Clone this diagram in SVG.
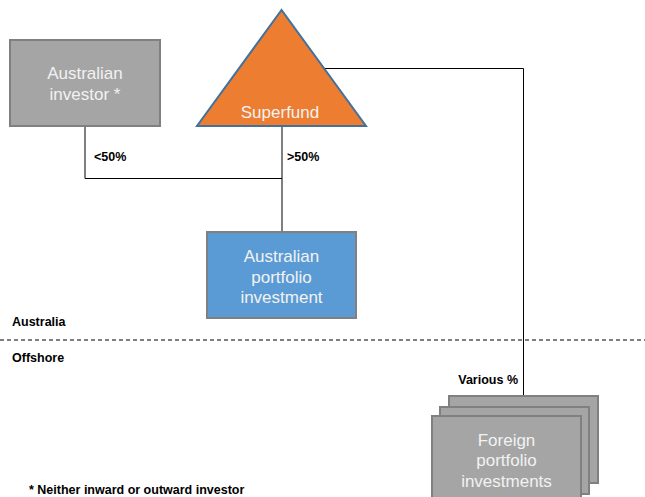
<svg xmlns="http://www.w3.org/2000/svg" width="645" height="497" viewBox="0 0 645 497">
  <style>
    .box { stroke: #808080; stroke-width: 2; }
    .grey { fill: #a5a5a5; }
    .blue { fill: #5b9bd5; }
    .node-text { font-family: "Liberation Sans", Arial, sans-serif; font-size: 17px; fill: #f2f2f2; text-anchor: middle; }
    .label { font-family: "Liberation Sans", Arial, sans-serif; font-size: 12.5px; font-weight: bold; fill: #000000; }
    .link { fill: none; stroke: #000000; stroke-width: 1; }
  </style>
  <rect x="0" y="0" width="645" height="497" fill="#ffffff"/>

  <!-- connectors -->
  <g id="connectors">
    <polyline class="link" points="85,127 85,178.5 282,178.5"/>
    <line class="link" x1="282" y1="126" x2="282" y2="231"/>
    <polyline class="link" points="323.5,68.5 523.5,68.5 523.5,395"/>
  </g>

  <!-- region divider -->
  <g id="divider">
    <line x1="0" y1="340" x2="645" y2="340" stroke="#000000" stroke-width="1" stroke-dasharray="4,3"/>
    <text class="label" x="12" y="326">Australia</text>
    <text class="label" x="12" y="362">Offshore</text>
  </g>

  <g id="investor">
    <rect class="box grey" x="10" y="40" width="150" height="86"/>
    <text class="node-text" x="85" y="79">Australian</text>
    <text class="node-text" x="85" y="100">investor *</text>
  </g>

  <g id="superfund">
    <polygon points="281.5,10 197,126 366,126" fill="#ed7d31" stroke="#41719c" stroke-width="2" stroke-linejoin="miter"/>
    <text class="node-text" x="280" y="118">Superfund</text>
  </g>

  <g id="portfolio-au">
    <rect class="box blue" x="207" y="232" width="149" height="86"/>
    <text class="node-text" x="281.5" y="262">Australian</text>
    <text class="node-text" x="281.5" y="283">portfolio</text>
    <text class="node-text" x="281.5" y="303">investment</text>
  </g>

  <g id="portfolio-foreign">
    <rect class="box grey" x="449" y="396" width="149" height="87"/>
    <rect class="box grey" x="440" y="407" width="149" height="87"/>
    <rect class="box grey" x="432" y="416" width="149" height="90"/>
    <text class="node-text" x="506.5" y="446">Foreign</text>
    <text class="node-text" x="506.5" y="466">portfolio</text>
    <text class="node-text" x="506.5" y="487">investments</text>
  </g>

  <g id="labels">
    <text class="label" x="94" y="161">&lt;50%</text>
    <text class="label" x="287" y="161">&gt;50%</text>
    <text class="label" x="518" y="384" text-anchor="end">Various %</text>
    <text class="label" x="29" y="494">* Neither inward or outward investor</text>
  </g>
</svg>
